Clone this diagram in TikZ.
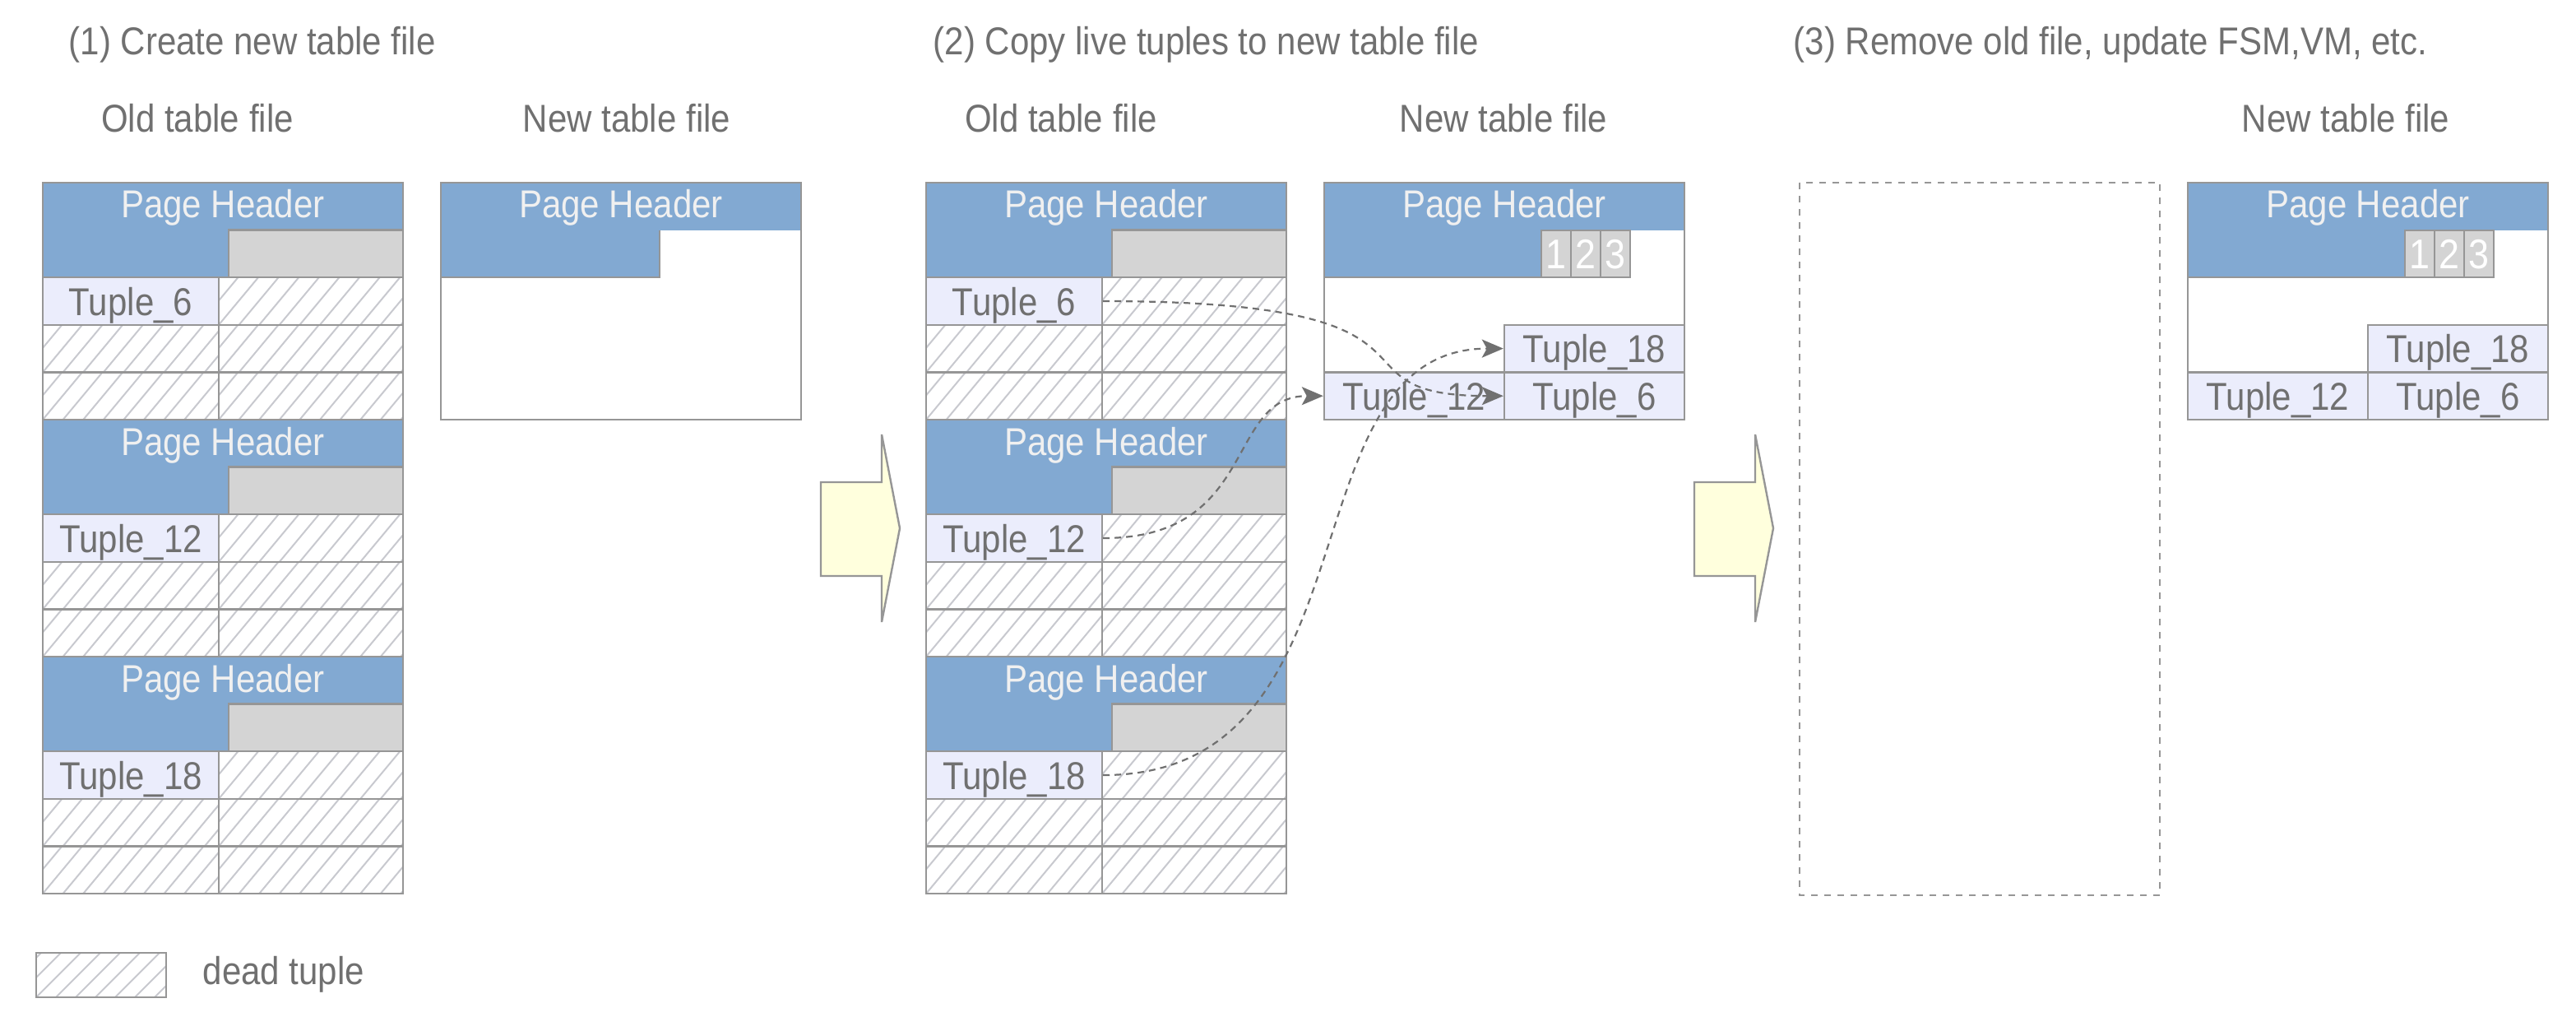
\documentclass[tikz,border=0pt]{standalone}
\usepackage{fontspec}
\setmainfont[FakeStretch=0.89]{Liberation Sans}
\usetikzlibrary{arrows.meta}
\definecolor{hdrblue}{HTML}{82A9D2}
\definecolor{tuplefill}{HTML}{EBEDFC}
\definecolor{greybox}{HTML}{D4D4D4}
\definecolor{edgec}{HTML}{969696}
\definecolor{txt}{HTML}{707070}
\definecolor{hatchc}{HTML}{C8C9CF}
\definecolor{arrowfill}{HTML}{FFFFDD}
\definecolor{hdrtxt}{HTML}{F0F0F0}
\tikzset{
  basefont/.style={font=\fontsize{11.8}{14}\selectfont},
  lbl/.style={basefont, inner sep=0pt, text=txt, text height=8.5pt, text depth=0pt},
  hdrtext/.style={basefont, inner sep=0pt, text=hdrtxt, text height=8.5pt, text depth=0pt},
  tuplecell/.style={basefont, draw=edgec, fill=tuplefill, line width=0.6pt,
    minimum width=54.75pt, minimum height=14.4pt, inner sep=0pt, text=txt,
    text height=8.5pt, text depth=0pt},
  numbox/.style={draw=edgec, fill=greybox, line width=0.6pt, minimum width=9pt,
    minimum height=14.2pt, inner sep=0pt, text=white,
    font=\fontsize{12.6}{14}\selectfont, text height=9pt, text depth=0pt},
  edgeline/.style={draw=edgec, line width=0.6pt},
  hatchline/.style={draw=hatchc, line width=0.5pt},
  bigarrow/.style={draw=edgec, fill=arrowfill, line width=0.6pt},
  movearrow/.style={draw=txt, line width=0.55pt, dash pattern=on 2pt off 1.5pt,
    -{Stealth[length=6.5pt,width=5.5pt,inset=1.5pt]}},
  removedbox/.style={draw=edgec, line width=0.6pt, dash pattern=on 2pt off 2pt}
}
\newcommand{\hatchcell}[4]{%
  \begin{scope}
    \clip (#1,#2) rectangle (#3,#4);
    \foreach \k in {-2,...,10} {
      \draw[hatchline] ({#1+\k*12.3},#4) -- ++(24,-28.8);
    }
  \end{scope}
  \draw[edgeline] (#1,#2) rectangle (#3,#4);
}
\newcommand{\oldfile}[2]{%
  \foreach \p/\lab/\nm in {0/6/a,1/12/b,2/18/c} {
    \pgfmathsetmacro{\ptop}{111+144*\p}
    \pgfmathsetmacro{\xa}{#1}
    \pgfmathsetmacro{\xm}{#1+107}
    \pgfmathsetmacro{\xg}{#1+113}
    \pgfmathsetmacro{\xb}{#1+219}
    \pgfmathsetmacro{\ya}{\ptop+28.8}
    \pgfmathsetmacro{\yb}{\ptop+57.6}
    \pgfmathsetmacro{\yc}{\ptop+86.4}
    \pgfmathsetmacro{\yd}{\ptop+115.2}
    \pgfmathsetmacro{\ye}{\ptop+144}
    \fill[hdrblue] (\xa,\ptop) rectangle (\xb,\yb);
    \draw[edgeline, fill=greybox] (\xg,\ya) rectangle (\xb,\yb);
    \node[hdrtext] (#2h\nm) at ({#1+109.5},{\ptop+13}) {Page Header};
    \node[tuplecell, minimum width=53.5pt] (#2\nm) at ({#1+53.5},{\ptop+72}) {Tuple\_\lab};
    \hatchcell{\xm}{\yb}{\xb}{\yc}
    \hatchcell{\xa}{\yc}{\xm}{\yd}
    \hatchcell{\xm}{\yc}{\xb}{\yd}
    \hatchcell{\xa}{\yd}{\xm}{\ye}
    \hatchcell{\xm}{\yd}{\xb}{\ye}
    \draw[edgeline] (\xa,\ptop) rectangle (\xb,\ye);
  }
}
\newcommand{\newfile}[2]{%
  \fill[hdrblue] (#1,111) rectangle ({#1+219},140);
  \fill[hdrblue] (#1,140) rectangle ({#1+132},168.4);
  \draw[edgeline] (#1,168.4) -- ({#1+132},168.4);
  \node[hdrtext] (#2h) at ({#1+109.5},124) {Page Header};
  \node[numbox] (#2n1) at ({#1+141},154.2) {1};
  \node[numbox] (#2n2) at ({#1+159},154.2) {2};
  \node[numbox] (#2n3) at ({#1+177},154.2) {3};
  \node[tuplecell] (#2c) at ({#1+164.25},211.8) {Tuple\_18};
  \node[tuplecell] (#2a) at ({#1+164.25},240.6) {Tuple\_6};
  \node[tuplecell] (#2b) at ({#1+54.75},240.6) {Tuple\_12};
  \draw[edgeline] (#1,111) rectangle ({#1+219},255);
}
\newcommand{\stepblock}[1]{%
  \draw[bigarrow] (#1,293) -- ({#1+37},293) -- ({#1+37},264) -- ({#1+48},321)
    -- ({#1+37},378) -- ({#1+37},350) -- (#1,350) -- cycle;
}
\begin{document}
\begin{tikzpicture}[x=0.5pt,y=-0.5pt]
\useasboundingbox (0,0) rectangle (1566,626);
\fill[white] (0,0) rectangle (1566,626);

% titles
\node[lbl, anchor=west] (t1) at (41.5,25) {(1) Create new table file};
\node[lbl, anchor=west] (t2) at (567,25) {(2) Copy live tuples to new table file};
\node[lbl, anchor=west] (t3) at (1090,25) {(3) Remove old file, update FSM,VM, etc.};

\node[lbl] (l1o) at (120,72) {Old table file};
\node[lbl] (l1n) at (381,72) {New table file};
\node[lbl] (l2o) at (645,72) {Old table file};
\node[lbl] (l2n) at (914,72) {New table file};
\node[lbl] (l3n) at (1426,72) {New table file};

% step 1
\oldfile{26}{o1}
\fill[hdrblue] (268,111) rectangle (487,140);
\fill[hdrblue] (268,140) rectangle (401,168.4);
\draw[edgeline] (268,168.4) -- (401,168.4) -- (401,140);
\node[hdrtext] (n1h) at (377.5,124) {Page Header};
\draw[edgeline] (268,111) rectangle (487,255);

\stepblock{499}

% step 2
\oldfile{563}{o2}
\newfile{805}{n2}

\stepblock{1030}

% step 3
\draw[removedbox] (1094,111) rectangle (1313,544);
\newfile{1330}{n3}

% legend
\begin{scope}
  \clip (22,579) rectangle (101,606);
  \foreach \k in {-3,...,8} {
    \draw[hatchline] ({22+\k*12},606) -- ++(27,-27);
  }
\end{scope}
\draw[edgeline] (22,579) rectangle (101,606);
\node[lbl, anchor=west] (leg) at (123,589.5) {dead tuple};

% moves
\draw[movearrow] (o2a.east) .. controls +(230,0) and +(-115,0) .. (n2a.west);
\draw[movearrow] (o2b.east) .. controls +(95,0) and +(-60,0) .. (n2b.west);
\draw[movearrow] (o2c.east) .. controls +(170,0) and +(-135,0) .. (n2c.west);
\end{tikzpicture}
\end{document}
